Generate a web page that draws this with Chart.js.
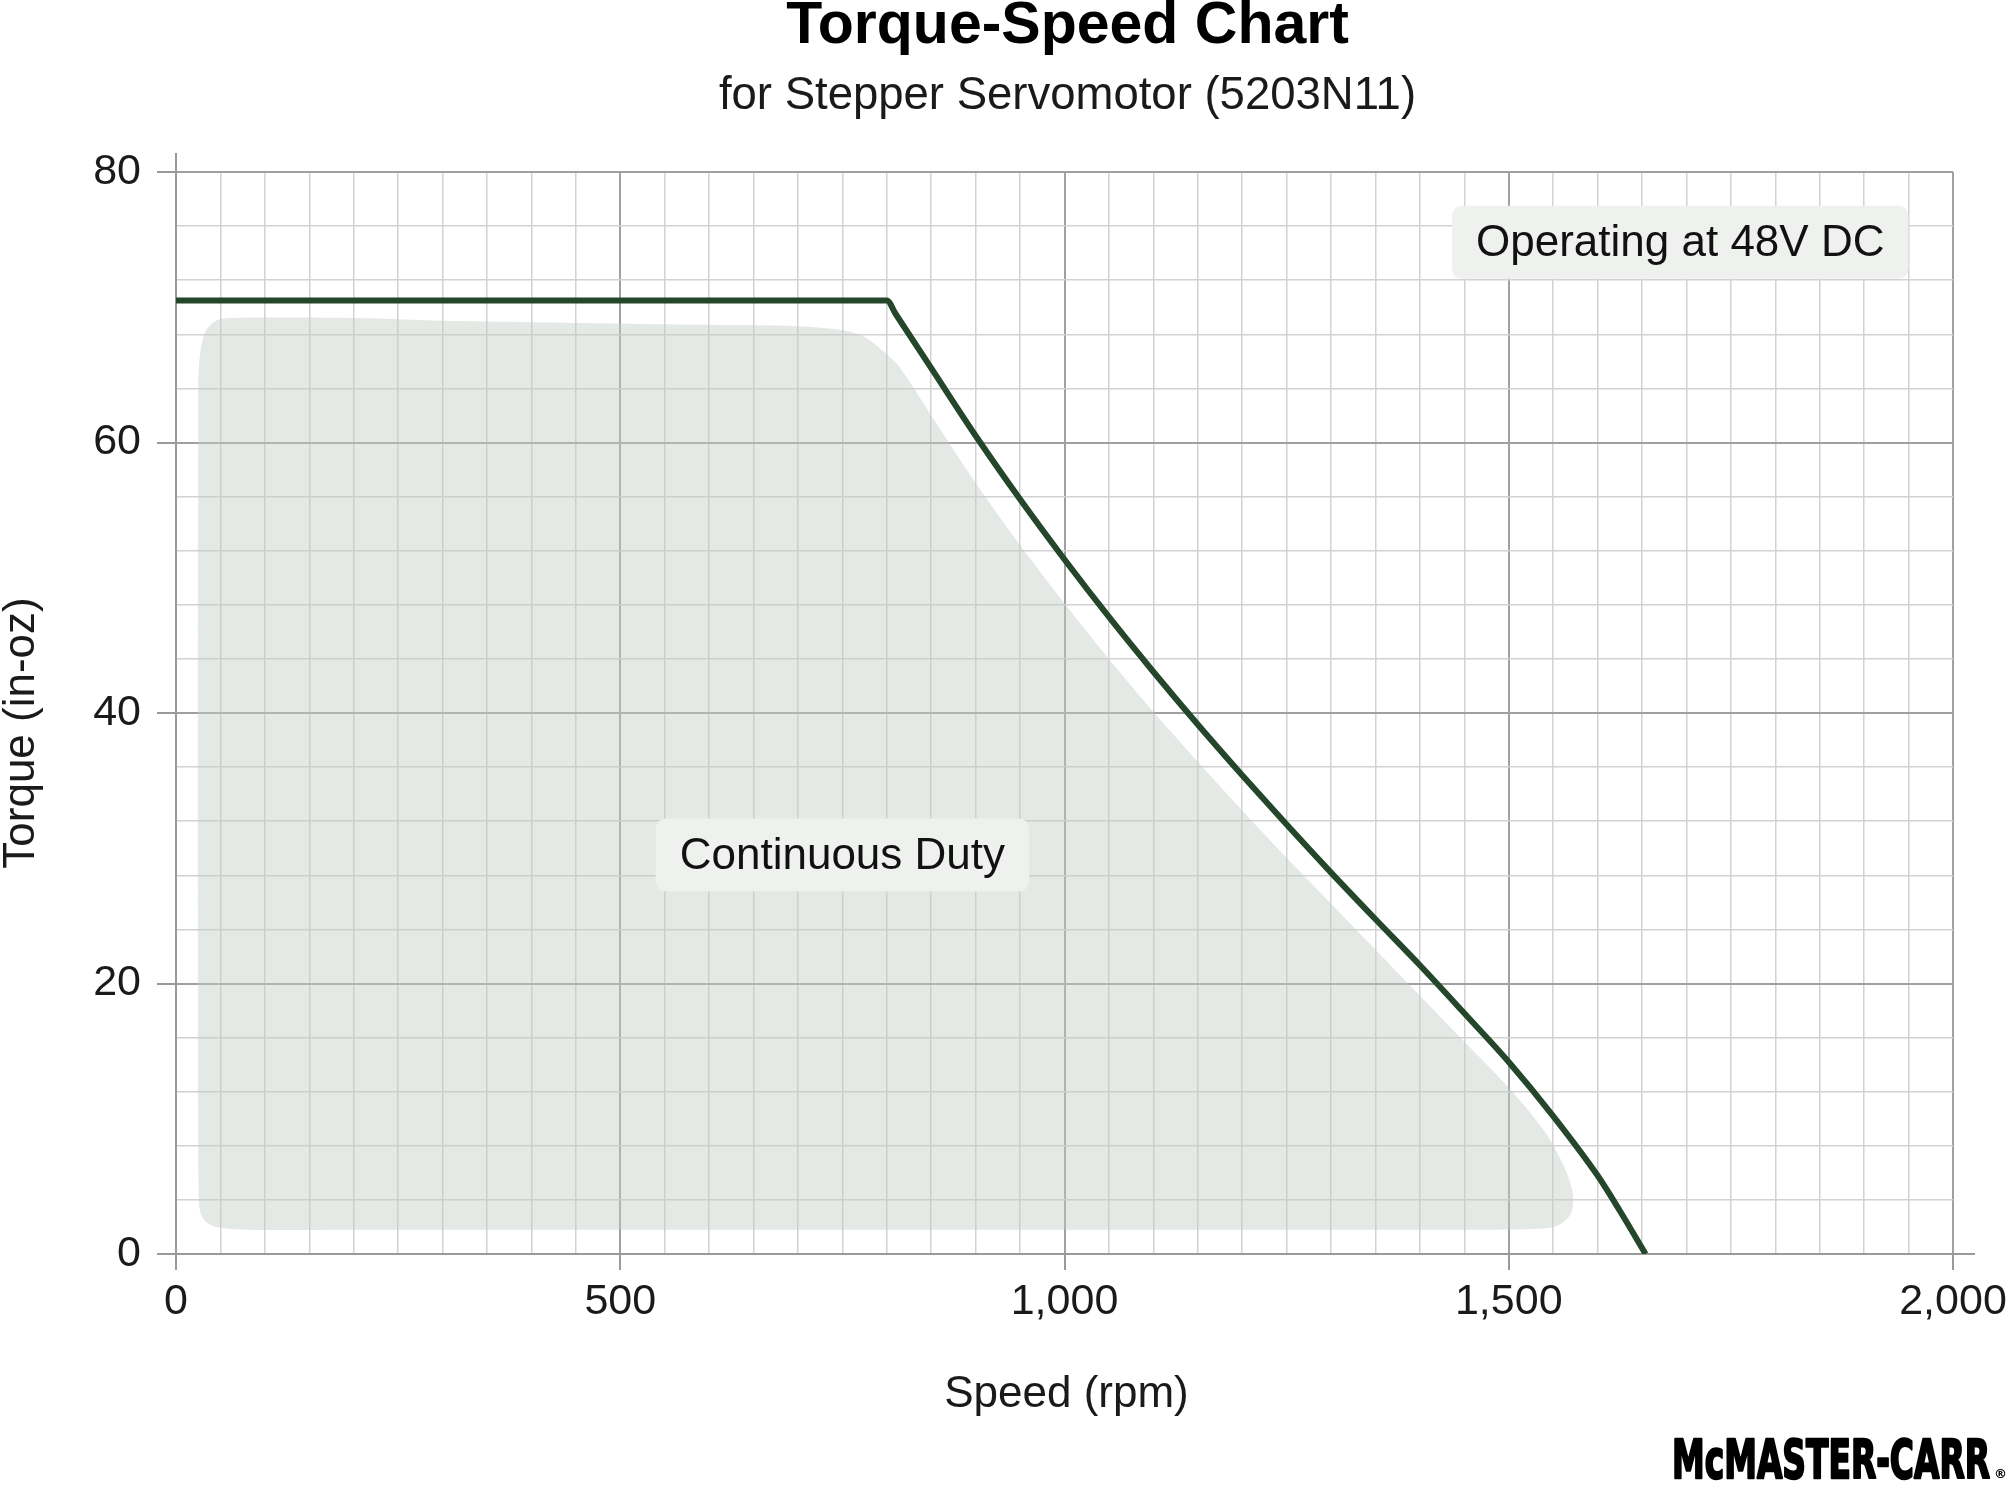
<!DOCTYPE html>
<html>
<head>
<meta charset="utf-8">
<title>Torque-Speed Chart</title>
<script src="https://cdn.jsdelivr.net/npm/chart.js@4.4.1/dist/chart.umd.min.js"></script>
<style>
    html, body { margin: 0; padding: 0; background: #ffffff; }
    #torqueChart { display: block; }
</style>
</head>
<body>
<canvas id="torqueChart" width="2013" height="1488"></canvas>
<script>
// torque curve at 48V DC
let speedRpm = [0, 800, 810, 850, 900, 950, 1000, 1050, 1100, 1150, 1200, 1250, 1300, 1350, 1400, 1450, 1500, 1550, 1600, 1625, 1654];
let torqueInOz = [70.5, 70.5, 69.5, 65.5, 60.5, 55.8, 51.35, 47.1, 43.05, 39.15, 35.4, 31.75, 28.2, 24.75, 21.35, 17.8, 14.2, 10.2, 5.8, 3.2, 0];

// continuous duty region outline (closed shape)
let dutySpeed = [400, 600, 700, 750, 775, 795, 814, 851, 900, 950, 1000, 1050, 1100, 1150, 1200, 1250, 1300, 1350, 1400, 1450, 1500, 1541, 1562, 1572, 1570, 1555, 1530, 1400, 200, 80, 45, 33, 27, 25.5, 25, 25, 27, 33, 45, 60, 200, 300, 400];
let dutyTorque = [68.9, 68.7, 68.6, 68.3, 67.8, 66.8, 65.6, 61.9, 57.0, 52.4, 48.1, 44.0, 40.1, 36.4, 32.8, 29.3, 25.9, 22.5, 19.1, 15.7, 12.3, 9.0, 6.5, 4.5, 3.0, 2.1, 1.85, 1.8, 1.8, 1.8, 2.0, 2.4, 3.2, 4.5, 10, 64, 66.5, 68.2, 69.0, 69.2, 69.2, 69.0, 68.9];

// axis ticks
let speedTicks = [0, 500, 1000, 1500, 2000];
let torqueTicks = [0, 20, 40, 60, 80];

let titleText = 'Torque-Speed Chart';
let subtitleText = 'for Stepper Servomotor (5203N11)';
let xTitle = 'Speed (rpm)';
let yTitle = 'Torque (in-oz)';
let notes = [
    { text: 'Continuous Duty', x: 750, y: 29.5 },
    { text: 'Operating at 48V DC', x: 1693, y: 74.8 }
];

function toPoints(xs, ys) {
    return xs.map((x, i) => ({ x: x, y: ys[i] }));
}

Chart.defaults.font.family = '"Liberation Sans", Arial, sans-serif';
Chart.defaults.color = '#1a1a1a';

let pageText = {
    id: 'pageText',
    afterDraw(chart) {
        let ctx = chart.ctx;
        let area = chart.chartArea;
        let xs = chart.scales.x;
        let ys = chart.scales.y;
        let midX = (area.left + area.right) / 2;
        ctx.save();

        // axis line overhang
        ctx.strokeStyle = '#9a9a9a';
        ctx.lineWidth = 2;
        ctx.beginPath();
        ctx.moveTo(area.left, area.top);
        ctx.lineTo(area.left, area.top - 19);
        ctx.moveTo(area.right, area.bottom);
        ctx.lineTo(area.right + 22, area.bottom);
        ctx.stroke();

        // titles
        ctx.fillStyle = '#000';
        ctx.textAlign = 'center';
        ctx.textBaseline = 'alphabetic';
        ctx.font = 'bold 59px "Liberation Sans", Arial, sans-serif';
        ctx.fillText(titleText, midX + 3, 43);
        ctx.fillStyle = '#1a1a1a';
        ctx.font = '45.5px "Liberation Sans", Arial, sans-serif';
        ctx.fillText(subtitleText, midX + 3, 109);

        // axis titles
        ctx.font = '44px "Liberation Sans", Arial, sans-serif';
        ctx.fillText(xTitle, midX + 2, 1407);
        ctx.save();
        ctx.translate(34, 733);
        ctx.rotate(-Math.PI / 2);
        ctx.fillText(yTitle, 0, 0);
        ctx.restore();

        // note boxes
        ctx.textBaseline = 'middle';
        notes.forEach(n => {
            let cx = xs.getPixelForValue(n.x);
            let cy = ys.getPixelForValue(n.y);
            let w = ctx.measureText(n.text).width + 48;
            let h = 73;
            ctx.fillStyle = '#eff1ef';
            ctx.beginPath();
            ctx.roundRect(cx - w / 2, cy - h / 2, w, h, 10);
            ctx.fill();
            ctx.fillStyle = '#111';
            ctx.fillText(n.text, cx, cy + 2);
        });

        // logo
        ctx.fillStyle = '#000';
        ctx.strokeStyle = '#000';
        ctx.lineWidth = 2.5;
        ctx.lineJoin = 'round';
        ctx.textAlign = 'left';
        ctx.textBaseline = 'alphabetic';
        ctx.font = 'bold 53px "DejaVu Sans", sans-serif';
        let logo = 'McMASTER-CARR';
        let lw = ctx.measureText(logo).width;
        ctx.save();
        ctx.translate(1672, 1478);
        ctx.scale(318 / lw, 1);
        ctx.fillText(logo, 0, 0);
        ctx.strokeText(logo, 0, 0);
        ctx.restore();
        ctx.font = 'bold 13px "DejaVu Sans", sans-serif';
        ctx.fillText('®', 1994, 1478);

        ctx.restore();
    }
};

let minorGrid = '#d2d2d2';
let majorGrid = '#a0a0a0';

new Chart(document.getElementById('torqueChart').getContext('2d'), {
    type: 'line',
    data: {
        datasets: [{
            label: 'Torque',
            data: toPoints(speedRpm, torqueInOz),
            borderColor: '#24462a',
            borderWidth: 6,
            pointRadius: 0,
            cubicInterpolationMode: 'monotone',
            fill: false,
            borderJoinStyle: 'round'
        }, {
            label: 'Continuous Duty',
            data: toPoints(dutySpeed, dutyTorque),
            borderColor: 'rgba(0,0,0,0)',
            borderWidth: 0,
            backgroundColor: 'rgba(196, 206, 198, 0.45)',
            pointRadius: 0,
            tension: 0.3,
            fill: 'shape'
        }]
    },
    options: {
        responsive: false,
        animation: false,
        devicePixelRatio: 1,
        layout: {
            padding: { top: 172, right: 60, left: 0, bottom: 0 }
        },
        plugins: {
            legend: { display: false },
            tooltip: { enabled: false }
        },
        scales: {
            x: {
                type: 'linear',
                min: 0,
                max: 2000,
                afterFit: function(scale) { scale.height = 234; },
                ticks: {
                    stepSize: 50,
                    autoSkip: false,
                    maxRotation: 0,
                    padding: 6,
                    font: { size: 43 },
                    color: '#1a1a1a',
                    callback: v => speedTicks.includes(v) ? v.toLocaleString('en-US') : ''
                },
                grid: {
                    color: ctx => speedTicks.includes(ctx.tick.value) ? majorGrid : minorGrid,
                    lineWidth: ctx => speedTicks.includes(ctx.tick.value) ? 2 : 1.5,
                    tickColor: ctx => speedTicks.includes(ctx.tick.value) ? '#9a9a9a' : 'rgba(0,0,0,0)',
                    tickLength: 16,
                    tickWidth: 2
                },
                border: { color: '#9a9a9a', width: 2 }
            },
            y: {
                type: 'linear',
                min: 0,
                max: 80,
                afterFit: function(scale) { scale.width = 176; },
                ticks: {
                    stepSize: 4,
                    autoSkip: false,
                    padding: 16,
                    font: { size: 43 },
                    color: '#1a1a1a',
                    callback: v => torqueTicks.includes(v) ? String(v) : ''
                },
                grid: {
                    color: ctx => torqueTicks.includes(ctx.tick.value) ? majorGrid : minorGrid,
                    lineWidth: ctx => torqueTicks.includes(ctx.tick.value) ? 2 : 1.5,
                    tickColor: ctx => torqueTicks.includes(ctx.tick.value) ? '#9a9a9a' : 'rgba(0,0,0,0)',
                    tickLength: 19,
                    tickWidth: 2
                },
                border: { color: '#9a9a9a', width: 2 }
            }
        }
    },
    plugins: [pageText]
});
</script>
</body>
</html>
